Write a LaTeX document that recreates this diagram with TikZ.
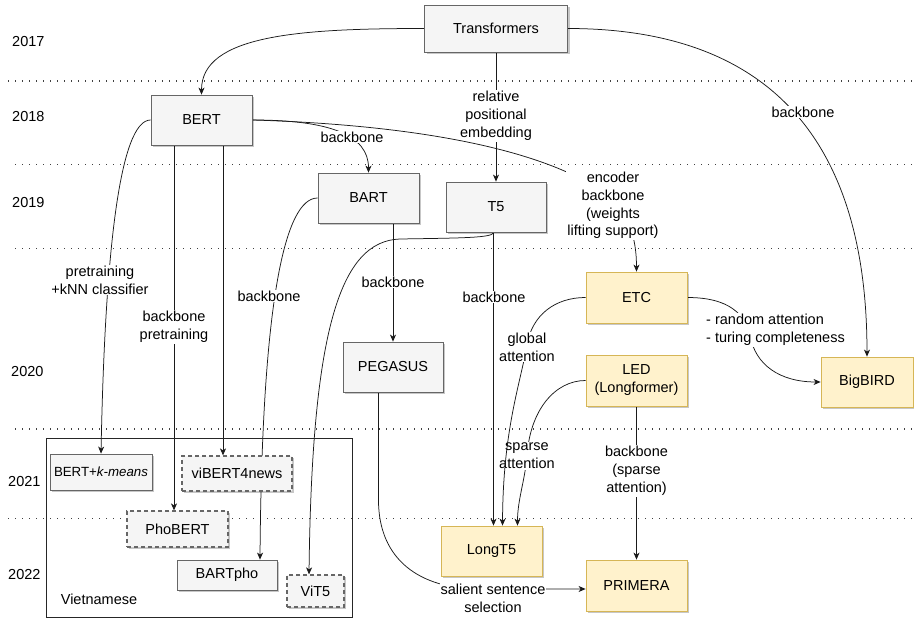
\documentclass[tikz,border=0pt]{standalone}
\usepackage{fontspec}
\setmainfont{Liberation Sans}
\usetikzlibrary{arrows.meta,shadows,backgrounds}
\definecolor{gfill}{HTML}{F5F5F5}
\definecolor{gline}{HTML}{666666}
\definecolor{yfill}{HTML}{FFF2CC}
\definecolor{yline}{HTML}{D6B656}
\definecolor{eline}{HTML}{1A1A1A}
\newcommand\mainfs{\fontsize{14.5}{18}\selectfont}
\newcommand\smallfs{\fontsize{13.3}{16}\selectfont}
\tikzset{
 box/.style={draw, line width=0.8pt, inner sep=0pt, align=center, font=\mainfs, drop shadow={shadow xshift=2pt, shadow yshift=-2pt, fill=black, opacity=0.22}},
 gbox/.style={box, draw=gline, fill=gfill},
 ybox/.style={box, draw=yline, fill=yfill},
 dbox/.style={gbox, line width=1.2pt, dash pattern=on 4pt off 3pt},
 conn/.style={draw=eline, line width=0.75pt, -{Stealth[length=7pt,width=6pt,inset=2pt]}},
 lbl/.style={fill=white, inner sep=1pt, align=center, font=\mainfs, text=black},
 sepline/.style={draw=black!75, line width=1.1pt, dash pattern=on 1.1pt off 5.9pt},
 yr/.style={anchor=west, font=\mainfs, inner sep=0pt},
}
\begin{document}
\begin{tikzpicture}[x=1pt,y=-1pt]
\useasboundingbox (0,0) rectangle (914,618);
% year labels
\node[yr] (y17) at (12,42) {2017};
\node[yr] (y18) at (12,117) {2018};
\node[yr] (y19) at (12,203) {2019};
\node[yr] (y20) at (11,372) {2020};
\node[yr] (y21) at (8,482) {2021};
\node[yr] (y22) at (8,575) {2022};
% container
\node[draw=black!85, line width=0.8pt, minimum width=306pt, minimum height=179pt, inner sep=0pt] (viet) at (199,527.5) {};
\node[font=\mainfs, inner sep=0pt] (vietlbl) at (99,599) {Vietnamese};
% nodes
\node[gbox, minimum width=143pt, minimum height=47pt] (tr) at (496,28.5) {Transformers};
\node[gbox, minimum width=101pt, minimum height=50pt] (bert) at (201.5,120) {BERT};
\node[gbox, minimum width=101pt, minimum height=50pt] (bart) at (368.5,198) {BART};
\node[gbox, minimum width=100pt, minimum height=50pt] (t5) at (496,207) {T5};
\node[gbox, minimum width=100pt, minimum height=50pt] (peg) at (393,367) {PEGASUS};
\node[ybox, minimum width=101pt, minimum height=51pt] (etc) at (636.5,297.5) {ETC};
\node[ybox, minimum width=101pt, minimum height=51pt] (led) at (636.5,380.5) {LED\\(Longformer)};
\node[ybox, minimum width=92pt, minimum height=50pt] (bigbird) at (867,382) {BigBIRD};
\node[ybox, minimum width=101pt, minimum height=50pt] (longt5) at (491.5,551) {LongT5};
\node[ybox, minimum width=101pt, minimum height=51pt] (primera) at (636.5,585.5) {PRIMERA};
\node[gbox, minimum width=102pt, minimum height=36pt, font=\smallfs] (kmeans) at (101,472) {BERT+\textit{k-means}};
\node[dbox, minimum width=110pt, minimum height=35pt] (vibert) at (237,473.5) {viBERT4news};
\node[dbox, minimum width=101pt, minimum height=36pt] (phobert) at (177.5,529) {PhoBERT};
\node[gbox, minimum width=100pt, minimum height=30pt] (bartpho) at (227,575) {BARTpho};
\node[dbox, minimum width=57pt, minimum height=32pt] (vit5) at (315.5,591) {ViT5};
\begin{pgfonlayer}{background}
% separators
\draw[sepline] (8,81) -- (914,81);
\draw[sepline] (15,164.5) -- (914,164.5);
\draw[sepline] (15,248.3) -- (914,248.3);
\draw[sepline] (15,429) -- (914,429);
\draw[sepline] (8,518.3) -- (914,518.3);
% edges
\draw[conn] (tr.west) .. controls (300,28.5) and (201.5,35) .. (bert.north);
\draw[conn] (tr.east) .. controls (750,28.5) and (867,120) .. (bigbird.north);
\node[lbl] (lb1) at (803,112) {backbone};
\draw[conn] (tr.south) -- (t5.north);
\node[lbl] (lb2) at (496,116) {relative\\positional\\embedding};
\draw[conn] (bert.east) .. controls (330,120) and (368.5,135) .. (bart.north);
\node[lbl] (lb3) at (352,137) {backbone};
\draw[conn] (bert.east) .. controls (420,125) and (540,150) .. (600,190) .. controls (630,210) and (636.5,240) .. (etc.north);
\node[lbl, font=\fontsize{14.5}{17.7}\selectfont] (lb4) at (613,205.5) {encoder\\backbone\\(weights\\lifting support)};
\draw[conn] (bert.west) .. controls (120,120) and (105,250) .. (kmeans.north);
\node[lbl] (lb5) at (100,280) {pretraining\\+kNN classifier};
\draw[conn] ([xshift=-27.5pt]bert.south) -- ([xshift=-3.5pt]phobert.north);
\node[lbl] (lb6) at (174,327) {backbone\\pretraining};
\draw[conn] ([xshift=21.5pt]bert.south) -- ([xshift=-14pt]vibert.north);
\draw[conn] (bart.west) .. controls (285,198) and (262,300) .. ([xshift=33pt]bartpho.north);
\node[lbl] (lb7) at (269,296) {backbone};
\draw[conn] ([xshift=24.5pt]bart.south) -- (peg.north);
\node[lbl] (lb8) at (393,282) {backbone};
\draw[conn] ([xshift=-2.5pt]t5.south) .. controls (493.5,238) and (460,238) .. (400,239) .. controls (340,241) and (312,330) .. ([xshift=-6.5pt]vit5.north);
\draw[conn] (led.west) .. controls (555,380.5) and (530,410) .. (527,456) .. controls (525,480) and (517.5,500) .. ([xshift=26pt]longt5.north);
\node[lbl] (lb9) at (527,456) {sparse\\attention};
\draw[conn] ([xshift=-2.5pt]t5.south) -- ([xshift=-2.5pt]t5.south |- longt5.north);
\node[lbl] (lb10) at (494,297) {backbone};
\draw[conn] (etc.west) .. controls (555,297.5) and (532,315) .. (527,345) .. controls (520,385) and (503,430) .. ([xshift=11pt]longt5.north);
\node[lbl] (lb11) at (527,347) {global\\attention};
\draw[conn] (led.south) -- (primera.north);
\node[lbl] (lb12) at (636.5,471) {backbone\\(sparse\\attention)};
\draw[conn] (etc.east) .. controls (730,297.5) and (745,315) .. (750,335) .. controls (755,365) and (780,382) .. (bigbird.west);
\node[lbl, align=left, anchor=west] (lb13) at (705,330) {- random attention\\- turing completeness};
\draw[conn] ([xshift=-14.5pt]peg.south) -- (378.5,500) .. controls (378.5,560) and (420,589) .. (480,589) -- ([yshift=-3.5pt]primera.west);
\node[lbl] (lb14) at (493,598) {salient sentence\\selection};
\end{pgfonlayer}
\end{tikzpicture}
\end{document}
